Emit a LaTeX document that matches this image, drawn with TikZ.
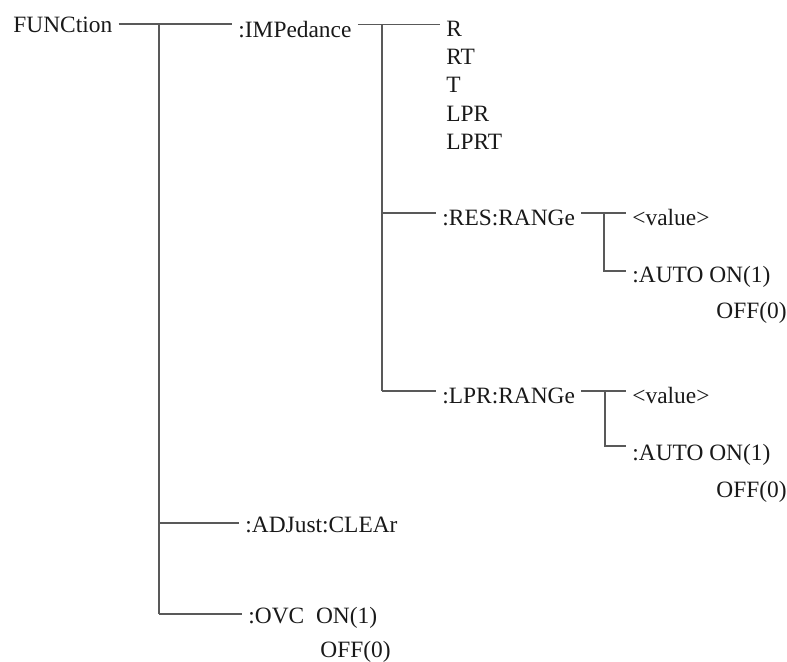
\documentclass[tikz,border=0pt]{standalone}
\usepackage{fontspec}
\setmainfont{Liberation Serif}
\begin{document}
\begin{tikzpicture}[
    x=0.5pt, y=-0.5pt,
    lbl/.style={anchor=base west, inner xsep=3pt, inner ysep=0pt, font=\fontsize{11.7}{14}\selectfont, text=black!90},
    branch/.style={draw=black!65, line width=0.6pt}
]
\useasboundingbox (0,0) rectangle (787,661);

% Level 1: root and its branches
\node (func) [lbl] at (7,32) {FUNCtion};
\node (imp) [lbl] at (232,37) {:IMPedance};
\node (adj) [lbl] at (239,532) {:ADJust:CLEAr};
\node (ovc) [lbl] at (242,623) {:OVC\ \ ON(1)};
\node (ovcoff) [lbl] at (314,657) {OFF(0)};

% Level 2: impedance options
\node (r) [lbl] at (440,36) {R};
\node (rt) [lbl] at (440,64) {RT};
\node (t) [lbl] at (440,92) {T};
\node (lp) [lbl] at (440,121) {LPR};
\node (lpt) [lbl] at (440,149) {LPRT};
\node (res) [lbl] at (436,225) {:RES:RANGe};
\node (lpr) [lbl] at (436,403) {:LPR:RANGe};

% Level 3: range settings
\node (resval) [lbl] at (626,225) {<value>};
\node (resauto) [lbl] at (626,282) {:AUTO ON(1)};
\node (resoff) [lbl] at (710,318) {OFF(0)};
\node (lprval) [lbl] at (626,403) {<value>};
\node (lprauto) [lbl] at (626,460) {:AUTO ON(1)};
\node (lproff) [lbl] at (710,497) {OFF(0)};

% Trunk points
\coordinate (t1) at (159,24);
\coordinate (t2) at (382,24.5);
\coordinate (t3) at (604,213);
\coordinate (t4) at (605,391);
\coordinate (jadj) at (159,523);
\coordinate (jovc) at (159,614);
\coordinate (jres) at (382,213);
\coordinate (jlpr) at (382,391);
\coordinate (jresauto) at (604,271);
\coordinate (jlprauto) at (605,446);

% FUNCtion tree
\draw[branch] (func.east |- t1) -- (imp.west |- t1);
\draw[branch] (t1) -- (jovc);
\draw[branch] (jadj) -- (adj.west |- jadj);
\draw[branch] (jovc) -- (ovc.west |- jovc);

% IMPedance tree
\draw[branch] (imp.east |- t2) -- (r.west |- t2);
\draw[branch] (t2) -- (jlpr);
\draw[branch] (jres) -- (res.west |- jres);
\draw[branch] (jlpr) -- (lpr.west |- jlpr);

% RES:RANGe tree
\draw[branch] (res.east |- t3) -- (resval.west |- t3);
\draw[branch] (t3) -- (jresauto) -- (resauto.west |- jresauto);

% LPR:RANGe tree
\draw[branch] (lpr.east |- t4) -- (lprval.west |- t4);
\draw[branch] (t4) -- (jlprauto) -- (lprauto.west |- jlprauto);

\end{tikzpicture}
\end{document}
